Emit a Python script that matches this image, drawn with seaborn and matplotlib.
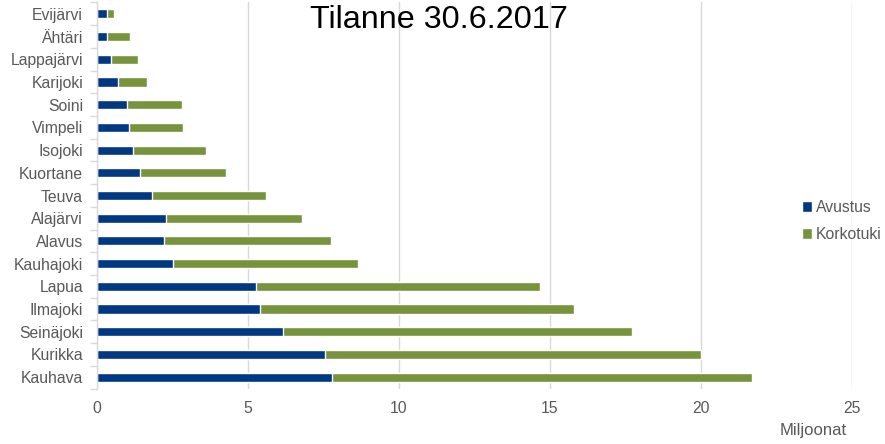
import matplotlib
matplotlib.use("Agg")
import matplotlib.pyplot as plt
import seaborn as sns
import pandas as pd
from matplotlib.patches import Patch

kunnat = ["Evijärvi", "Ähtäri", "Lappajärvi", "Karijoki", "Soini", "Vimpeli",
          "Isojoki", "Kuortane", "Teuva", "Alajärvi", "Alavus", "Kauhajoki",
          "Lapua", "Ilmajoki", "Seinäjoki", "Kurikka", "Kauhava"]
avustus = [0.33, 0.33, 0.46, 0.70, 1.00, 1.07, 1.19, 1.42, 1.81, 2.28, 2.22, 2.52,
           5.27, 5.40, 6.16, 7.55, 7.78]
korkotuki = [0.23, 0.75, 0.91, 0.96, 1.83, 1.78, 2.41, 2.84, 3.78, 4.51, 5.53, 6.11,
             9.41, 10.39, 11.54, 12.44, 13.91]

BLUE = "#003882"
GREEN = "#77933C"
GREY = "#595959"

df = pd.DataFrame({"kunta": kunnat, "Avustus": avustus, "Korkotuki": korkotuki})
df["Yhteensä"] = df["Avustus"] + df["Korkotuki"]

sns.set_theme(style="white")
plt.rcParams["font.family"] = ["Liberation Sans", "DejaVu Sans"]

fig = plt.figure(figsize=(8.85, 4.44), dpi=100)
ax = fig.add_axes([97 / 885, 1 - 388.5 / 444, (852 - 97) / 885, (388.5 - 2.5) / 444])

sns.barplot(data=df, x="Yhteensä", y="kunta", color=GREEN, width=0.4,
            saturation=1, ax=ax, orient="h")
sns.barplot(data=df, x="Avustus", y="kunta", color=BLUE, width=0.4,
            saturation=1, ax=ax, orient="h")

ax.set_xlim(0, 25)
ax.set_ylim(len(kunnat) - 0.5, -0.5)
ax.set_xticks([0, 5, 10, 15, 20, 25])
ax.xaxis.grid(True, color="#d9d9d9", linewidth=1)
ax.set_axisbelow(True)
for s in ["top", "right", "bottom"]:
    ax.spines[s].set_visible(False)
ax.spines["left"].set_color("#d9d9d9")
ax.spines["left"].set_linewidth(1)

ax.set_yticks([i - 0.5 for i in range(len(kunnat) + 1)], minor=True)
ax.tick_params(axis="y", which="minor", length=5, color="#d9d9d9", width=1, left=True)
ax.tick_params(axis="y", which="major", length=0, pad=10, labelsize=11.3, labelcolor=GREY)
ax.tick_params(axis="x", length=0, pad=9, labelsize=11.3, labelcolor=GREY)
ax.set_ylabel("")
ax.set_xlabel("")

fig.text(813 / 885, 1 - 430 / 444, "Miljoonat", ha="center", va="center",
         fontsize=12, color=GREY)
fig.text(439 / 885, 1 - 20 / 444, "Tilanne 30.6.2017", ha="center", va="center",
         fontsize=23.3, color="black")

handles = [Patch(facecolor=BLUE, label="Avustus"), Patch(facecolor=GREEN, label="Korkotuki")]
leg = fig.legend(handles=handles, loc="center left",
                 bbox_to_anchor=(802 / 885, 1 - 221 / 444), frameon=False,
                 fontsize=11.3, handlelength=0.65, handleheight=0.65,
                 handletextpad=0.25, labelspacing=0.75, borderaxespad=0, borderpad=0)
for t in leg.get_texts():
    t.set_color(GREY)

fig.savefig("out.png", dpi=100)
